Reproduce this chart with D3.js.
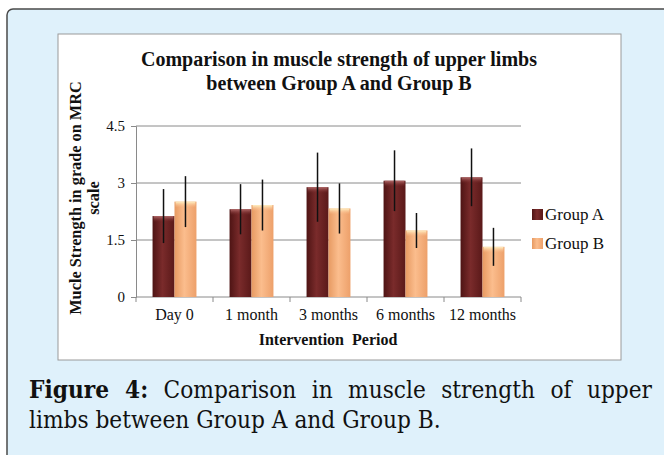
<!DOCTYPE html>
<html>
  <head>
    <script src="https://d3js.org/d3.v7.min.js"></script>
    <style>
      body {
        margin: 0;
        background: #ffffff;
      }
      .tick-label {
        font-family: "Liberation Serif", "Times New Roman", serif;
        font-size: 16px;
        fill: #111;
      }
    </style>
  </head>
  <body>
    <svg id="chart" width="664" height="455"></svg>
    <script>
      // data
      const categories = ["Day 0", "1 month", "3 months", "6 months", "12 months"];
      const groups = ["Group A", "Group B"];
      const groupA = [2.13, 2.31, 2.89, 3.06, 3.15];
      const groupB = [2.51, 2.42, 2.33, 1.75, 1.32];
      const errA = [0.71, 0.66, 0.91, 0.8, 0.76];
      const errB = [0.67, 0.67, 0.66, 0.46, 0.5];
      const yTicks = [0, 1.5, 3, 4.5];

      const svg = d3.select("svg#chart");

      // gradients for the 3d-looking bars
      const defs = svg.append("defs");
      const grads = {
        "Group A": ["#4e1414", "#7a2b2b", "#5a1919"],
        "Group B": ["#e79a62", "#fbbd8d", "#eda06a"],
      };
      const tops = {
        "Group A": ["#b26a6a", "#7a2b2b"],
        "Group B": ["#fff1c4", "#fbbd8d"],
      };
      groups.forEach((g, i) => {
        const lg = defs
          .append("linearGradient")
          .attr("id", "side" + i)
          .attr("x1", 0)
          .attr("x2", 1)
          .attr("y1", 0)
          .attr("y2", 0);
        lg.append("stop").attr("offset", "0%").attr("stop-color", grads[g][0]);
        lg.append("stop").attr("offset", "45%").attr("stop-color", grads[g][1]);
        lg.append("stop").attr("offset", "100%").attr("stop-color", grads[g][2]);
        const tg = defs
          .append("linearGradient")
          .attr("id", "top" + i)
          .attr("x1", 0)
          .attr("x2", 0)
          .attr("y1", 0)
          .attr("y2", 1);
        tg.append("stop").attr("offset", "0%").attr("stop-color", tops[g][0]);
        tg.append("stop").attr("offset", "100%").attr("stop-color", tops[g][1]).attr("stop-opacity", 0);
      });

      // page panel
      svg
        .append("rect")
        .attr("x", 7)
        .attr("y", 9)
        .attr("width", 720)
        .attr("height", 520)
        .attr("rx", 6)
        .attr("fill", "#dff1fb")
        .attr("stroke", "#4a4a4a")
        .attr("stroke-width", 1.5);

      // chart box
      svg
        .append("rect")
        .attr("x", 58)
        .attr("y", 34)
        .attr("width", 563)
        .attr("height", 326)
        .attr("fill", "#fff")
        .attr("stroke", "#9a9a9a")
        .attr("stroke-width", 1);

      // title
      const title = svg
        .append("text")
        .attr("text-anchor", "middle")
        .style("font-family", "Liberation Serif, serif")
        .style("font-weight", "bold")
        .style("font-size", "20px")
        .attr("fill", "#111");
      title.append("tspan").attr("x", 339).attr("y", 66).text("Comparison in muscle strength of upper limbs");
      title.append("tspan").attr("x", 339).attr("y", 90).text("between Group A and Group B");

      // scales
      const x = d3.scaleBand().domain(categories).range([136, 521]).paddingInner(0.43).paddingOuter(0.215);
      const xg = d3.scaleBand().domain(groups).range([0, x.bandwidth()]);
      const y = d3.scaleLinear().domain([0, 4.5]).range([297, 126]);

      // gridlines
      svg
        .append("g")
        .selectAll("line")
        .data(yTicks.filter((d) => d > 0))
        .join("line")
        .attr("x1", 136)
        .attr("x2", 521)
        .attr("y1", (d) => y(d))
        .attr("y2", (d) => y(d))
        .attr("stroke", "#8a8a8a")
        .attr("stroke-width", 1);

      // y axis
      const yAxis = d3.axisLeft(y).tickValues(yTicks).tickSize(5).tickPadding(6).tickFormat((d) => d);
      const yG = svg.append("g").attr("transform", "translate(136,0)").call(yAxis);
      yG.select(".domain").attr("stroke", "#8a8a8a");
      yG.selectAll(".tick line").attr("stroke", "#8a8a8a");
      yG.selectAll(".tick text").attr("class", "tick-label").style("font-size", "15px");

      // x axis (ticks between categories)
      svg
        .append("line")
        .attr("x1", 136)
        .attr("x2", 521)
        .attr("y1", 297)
        .attr("y2", 297)
        .attr("stroke", "#8a8a8a");
      const bounds = categories.map((c) => x(c) - (x.step() * x.paddingInner()) / 2);
      bounds.push(521);
      svg
        .append("g")
        .selectAll("line")
        .data(bounds)
        .join("line")
        .attr("x1", (d) => d)
        .attr("x2", (d) => d)
        .attr("y1", 297)
        .attr("y2", 302)
        .attr("stroke", "#8a8a8a");
      svg
        .append("g")
        .selectAll("text")
        .data(categories)
        .join("text")
        .attr("class", "tick-label")
        .attr("x", (d) => x(d) + x.bandwidth() / 2)
        .attr("y", 320)
        .attr("text-anchor", "middle")
        .text((d) => d);

      // bars
      const rows = categories.map((c, i) => ({
        cat: c,
        vals: [
          { g: "Group A", i: 0, v: groupA[i], e: errA[i] },
          { g: "Group B", i: 1, v: groupB[i], e: errB[i] },
        ],
      }));
      const cat = svg
        .append("g")
        .selectAll("g")
        .data(rows)
        .join("g")
        .attr("transform", (d) => `translate(${x(d.cat)},0)`);
      cat
        .selectAll("rect.bar")
        .data((d) => d.vals)
        .join("rect")
        .attr("class", "bar")
        .attr("x", (d) => xg(d.g))
        .attr("width", xg.bandwidth())
        .attr("y", (d) => y(d.v))
        .attr("height", (d) => y(0) - y(d.v))
        .attr("fill", (d) => `url(#side${d.i})`);
      cat
        .selectAll("rect.bevel")
        .data((d) => d.vals)
        .join("rect")
        .attr("class", "bevel")
        .attr("x", (d) => xg(d.g) + 1)
        .attr("width", xg.bandwidth() - 2)
        .attr("y", (d) => y(d.v))
        .attr("height", 6)
        .attr("fill", (d) => `url(#top${d.i})`);
      cat
        .selectAll("line.err")
        .data((d) => d.vals)
        .join("line")
        .attr("class", "err")
        .attr("x1", (d) => xg(d.g) + xg.bandwidth() / 2)
        .attr("x2", (d) => xg(d.g) + xg.bandwidth() / 2)
        .attr("y1", (d) => y(d.v + d.e))
        .attr("y2", (d) => y(d.v - d.e))
        .attr("stroke", "#111")
        .attr("stroke-width", 1.5);

      // axis titles
      svg
        .append("text")
        .attr("x", 328)
        .attr("y", 345)
        .attr("text-anchor", "middle")
        .style("font-family", "Liberation Serif, serif")
        .style("font-weight", "bold")
        .style("font-size", "16px")
        .attr("fill", "#111")
        .attr("xml:space", "preserve")
        .text("Intervention  Period");
      const yt = svg
        .append("text")
        .attr("transform", "translate(0,198) rotate(-90)")
        .attr("text-anchor", "middle")
        .style("font-family", "Liberation Serif, serif")
        .style("font-weight", "bold")
        .style("font-size", "16.3px")
        .attr("fill", "#111");
      yt.append("tspan").attr("x", 0).attr("y", 81).text("Mucle Strength in grade on MRC");
      yt.append("tspan").attr("x", 0).attr("y", 99).text("scale");

      // legend
      const leg = svg
        .append("g")
        .selectAll("g")
        .data(groups)
        .join("g")
        .attr("transform", (d, i) => `translate(532,${214 + i * 29})`);
      leg
        .append("rect")
        .attr("x", 0)
        .attr("y", -5)
        .attr("width", 11)
        .attr("height", 11)
        .attr("fill", (d, i) => `url(#side${i})`);
      leg
        .append("text")
        .attr("x", 13)
        .attr("y", 6)
        .style("font-family", "Liberation Serif, serif")
        .style("font-size", "17px")
        .attr("fill", "#111")
        .text((d) => d);

      // caption
      const capFont = "DejaVu Serif";
      const cap2 = svg
        .append("text")
        .attr("x", 29)
        .attr("y", 428)
        .style("font-family", capFont)
        .style("font-stretch", "condensed")
        .style("font-size", "24px")
        .attr("fill", "#111")
        .text("limbs between Group A and Group B.");
      const capSize = (24 * 412) / cap2.node().getComputedTextLength();
      cap2.style("font-size", capSize + "px");
      const cap1 = svg
        .append("text")
        .attr("x", 29)
        .attr("y", 398)
        .style("font-family", capFont)
        .style("font-stretch", "condensed")
        .style("font-size", capSize + "px")
        .attr("fill", "#111");
      cap1.append("tspan").style("font-weight", "bold").text("Figure 4:");
      cap1.append("tspan").text(" Comparison in muscle strength of upper");
      const w1 = cap1.node().getComputedTextLength();
      cap1.attr("word-spacing", (652 - 29 - w1) / 7);
    </script>
  </body>
</html>
